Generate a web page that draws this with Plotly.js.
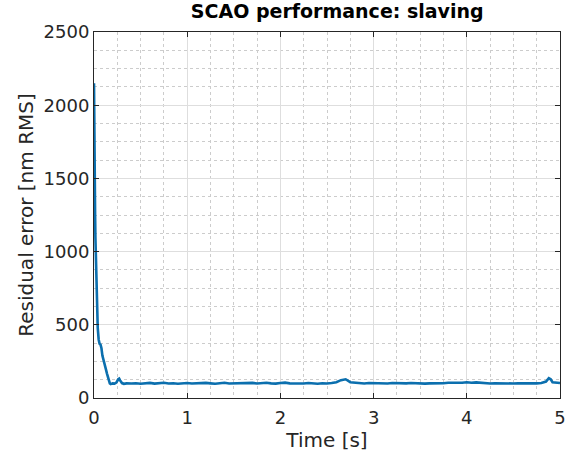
<!DOCTYPE html>
<html>
<head>
<meta charset="utf-8">
<script src="https://cdn.plot.ly/plotly-3.0.1.min.js"></script>
<style>html,body{margin:0;padding:0;background:#fff;}#chart{width:568px;height:455px;}</style>
</head>
<body>
<div id="chart"></div>
<script>
const timeS = [0,0.002,0.004,0.006,0.008,0.01,0.012,0.015,0.018,0.02,0.025,0.03,0.035,0.04,0.05,0.06,0.07,0.08,0.09,0.1,0.11,0.12,0.13,0.14,0.15,0.16,0.17,0.18,0.19,0.2,0.22,0.24,0.26,0.27,0.28,0.3,0.32,0.35,
0.40,0.45,0.50,0.55,0.60,0.65,0.70,0.75,0.80,0.85,0.90,0.95,1.00,1.05,1.10,1.15,1.20,1.25,1.30,1.35,1.40,1.45,1.50,1.55,1.60,1.65,1.70,1.75,1.80,1.85,1.90,1.95,2.00,2.05,2.10,2.15,2.20,2.25,2.30,2.35,2.40,2.45,2.50,2.55,2.60,2.65,2.70,2.75,2.80,2.85,2.90,2.95,3.00,3.05,3.10,3.15,3.20,3.25,3.30,3.35,3.40,3.45,3.50,3.55,3.60,3.65,3.70,3.75,3.80,3.85,3.90,3.95,4.00,4.05,4.10,4.15,4.20,4.25,4.30,4.35,4.40,4.45,4.50,4.55,4.60,4.65,4.70,4.75,4.80,4.85,4.88,4.90,4.92,4.95,5.00];
const residualNm = [2150,1830,1880,1400,1620,1480,1250,1100,1000,960,800,650,560,480,400,370,365,340,290,260,245,220,190,165,140,115,100,95,97,100,98,105,128,132,120,102,97,100,
99,101,97,100,103,98,101,104,99,101,97,100,102,99,101,98,103,100,97,101,104,99,100,102,98,101,103,99,101,104,100,98,102,105,100,98,101,99,102,100,97,101,99,103,108,122,128,108,104,101,99,102,100,98,101,99,102,100,97,100,102,99,101,98,100,99,102,101,104,103,106,104,108,104,107,103,101,99,101,100,98,100,99,101,100,99,102,100,103,112,135,128,108,104,102];
const titleText = 'SCAO performance: slaving';
const xLabel = 'Time [s]';
const yLabel = 'Residual error [nm RMS]';

const axisColor = '#262626';
const gridColor = '#dedede';
const minorGridColor = '#cccccc';
const fontFam = 'DejaVu Sans, sans-serif';

Plotly.newPlot('chart', [{
  x: timeS, y: residualNm, type: 'scatter', mode: 'lines',
  line: {color: '#0b6fae', width: 2.6}
}], {
  width: 568, height: 455,
  margin: {l: 94, r: 8, t: 32, b: 57},
  paper_bgcolor: '#fff', plot_bgcolor: '#fff',
  showlegend: false,
  title: {text: '<b>' + titleText + '</b>', font: {family: fontFam, size: 19, color: '#000'}, x: 0.522, xref: 'paper', xanchor: 'center', y: 0.99, yref: 'container', yanchor: 'top'},
  xaxis: {
    range: [0, 5], dtick: 1, tick0: 0, zeroline: false,
    showline: true, linecolor: axisColor, linewidth: 1, mirror: 'ticks',
    ticks: 'inside', ticklen: 5, tickcolor: axisColor,
    showgrid: true, gridcolor: gridColor, gridwidth: 1,
    minor: {dtick: 0.25, showgrid: true, gridcolor: minorGridColor, griddash: 'dot', gridwidth: 1, ticks: ''},
    tickfont: {family: fontFam, size: 18, color: '#262626'},
    ticklabelstandoff: 3,
    title: {text: xLabel, font: {family: fontFam, size: 20, color: '#262626'}, standoff: 2}
  },
  yaxis: {
    range: [0, 2500], dtick: 500, tick0: 0, zeroline: false,
    showline: true, linecolor: axisColor, linewidth: 1, mirror: 'ticks',
    ticks: 'inside', ticklen: 5, tickcolor: axisColor,
    showgrid: true, gridcolor: gridColor, gridwidth: 1,
    minor: {dtick: 125, showgrid: true, gridcolor: minorGridColor, griddash: 'dot', gridwidth: 1, ticks: ''},
    tickfont: {family: fontFam, size: 18, color: '#262626'},
    title: {text: yLabel, font: {family: fontFam, size: 20, color: '#262626'}, standoff: 4}
  }
}, {staticPlot: true, displayModeBar: false});
</script>
</body>
</html>
